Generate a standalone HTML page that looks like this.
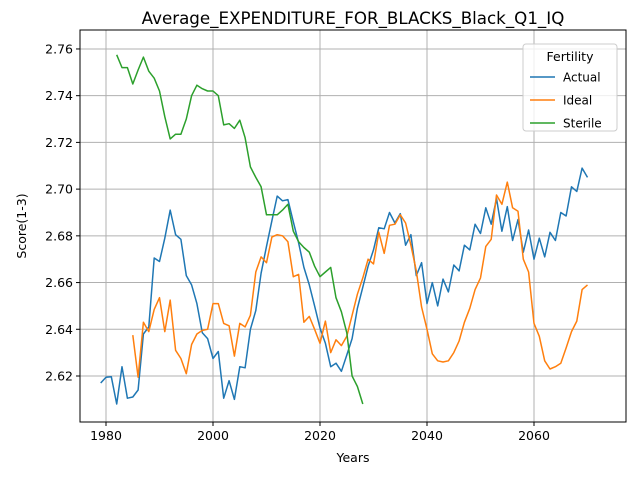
<!DOCTYPE html>
<html><head><meta charset="utf-8"><style>
body{margin:0;background:#fff}
svg text{font-family:"DejaVu Sans","Liberation Sans",sans-serif;fill:#000}
</style></head><body>
<svg id="chart" width="640" height="480">
<rect x="0" y="0" width="640" height="480" fill="#fff"/>
<g id="grid"></g><g id="series"></g><g id="axes"></g>
</svg>
<script>
const actualYears=[1979,2070];
const actual=[2.617,2.6195,2.6197,2.608,2.624,2.6105,2.611,2.614,2.638,2.641,2.6705,2.669,2.679,2.691,2.6805,2.6785,2.663,2.659,2.651,2.6385,2.636,2.6275,2.6305,2.6105,2.618,2.610,2.624,2.6235,2.640,2.648,2.664,2.6755,2.6865,2.697,2.695,2.6955,2.686,2.677,2.6665,2.659,2.650,2.6405,2.634,2.624,2.6255,2.622,2.629,2.636,2.649,2.658,2.667,2.674,2.6835,2.683,2.690,2.6855,2.6895,2.676,2.6805,2.663,2.6685,2.651,2.660,2.650,2.6615,2.656,2.6675,2.665,2.676,2.674,2.685,2.681,2.692,2.685,2.696,2.682,2.6925,2.678,2.687,2.673,2.6825,2.670,2.679,2.671,2.6815,2.678,2.690,2.6885,2.701,2.699,2.709,2.705];
const idealStart=1985;
const ideal=[2.6375,2.6195,2.643,2.639,2.6485,2.6535,2.639,2.6525,2.631,2.6275,2.621,2.6335,2.638,2.6395,2.640,2.651,2.651,2.6425,2.6415,2.6285,2.6425,2.641,2.646,2.6645,2.671,2.6685,2.6795,2.6805,2.680,2.6775,2.6625,2.6635,2.643,2.6455,2.640,2.634,2.6435,2.630,2.6355,2.633,2.637,2.646,2.655,2.662,2.670,2.668,2.6815,2.6725,2.6845,2.685,2.689,2.6855,2.676,2.665,2.6495,2.640,2.6295,2.6265,2.626,2.6265,2.630,2.635,2.643,2.649,2.657,2.662,2.6755,2.6785,2.6975,2.6935,2.703,2.692,2.6905,2.670,2.6645,2.6425,2.637,2.6265,2.623,2.624,2.6255,2.632,2.639,2.6435,2.657,2.659];
const sterileStart=1982;
const sterile=[2.7575,2.752,2.752,2.745,2.751,2.7565,2.7505,2.7475,2.742,2.731,2.7215,2.7235,2.7235,2.730,2.740,2.7445,2.743,2.742,2.742,2.740,2.7275,2.728,2.726,2.7295,2.722,2.7095,2.705,2.701,2.689,2.689,2.689,2.691,2.6935,2.682,2.6775,2.675,2.673,2.667,2.6625,2.6645,2.6665,2.6535,2.6475,2.6385,2.620,2.6155,2.608];
const xTicks=[1980,2000,2020,2040,2060];
const yTicks=[2.62,2.64,2.66,2.68,2.70,2.72,2.74,2.76];
const L=80,R=626,T=30,B=422;
function X(yr){return 106+(yr-1980)*5.35;}
function Y(v){return 376-(v-2.62)*2336;}
const NS='http://www.w3.org/2000/svg';
function mk(tag,attrs,parent,txt){const e=document.createElementNS(NS,tag);for(const k in attrs)e.setAttribute(k,attrs[k]);if(txt!==undefined)e.textContent=txt;parent.appendChild(e);return e;}
const grid=document.getElementById('grid'),ser=document.getElementById('series'),ax=document.getElementById('axes');
xTicks.forEach(t=>{const x=X(t);
 const g=mk('line',{x1:x,x2:x,y1:T,y2:B,stroke:'#b0b0b0','stroke-width':1},grid);
 
 
 mk('line',{x1:x,x2:x,y1:B,y2:B+4,stroke:'#000'},ax);
 const l=mk('text',{x:x,y:B+18,'font-size':12.5,'text-anchor':'middle'},ax,String(t));
 
 });
yTicks.forEach(t=>{const y=Y(t);
 const g=mk('line',{x1:L,x2:R,y1:y,y2:y,stroke:'#b0b0b0','stroke-width':1},grid);
 
 
 mk('line',{x1:L-4,x2:L,y1:y,y2:y,stroke:'#000'},ax);
 const l=mk('text',{x:L-7,y:y+4.5,'font-size':12.5,'text-anchor':'end'},ax,t.toFixed(2));
 
 });
function line(vals,start,color,name){
 const pts=vals.map((v,i)=>X(start+i).toFixed(1)+','+Y(v).toFixed(1)).join(' ');
 const p=mk('polyline',{points:pts,fill:'none',stroke:color,'stroke-width':1.5,'stroke-linejoin':'round'},ser);
 
 }
line(actual,actualYears[0],'#1f77b4','actual-line');
line(ideal,idealStart,'#ff7f0e','ideal-line');
line(sterile,sterileStart,'#2ca02c','sterile-line');
const fr=mk('rect',{x:L,y:T,width:R-L,height:B-T,fill:'none',stroke:'#000','stroke-width':1},ax);


const ti=mk('text',{x:353,y:24,'font-size':16.7,'text-anchor':'middle'},ax,'Average_EXPENDITURE_FOR_BLACKS_Black_Q1_IQ');


const xt=mk('text',{x:353,y:462,'font-size':12.5,'text-anchor':'middle'},ax,'Years');


const yt=mk('text',{x:26,y:226,'font-size':12.5,'text-anchor':'middle',transform:'rotate(-90 26 226)'},ax,'Score(1-3)');


const lg=mk('g',{},ax);


mk('rect',{x:523,y:44,width:94,height:87,rx:3,fill:'#fff','fill-opacity':0.8,stroke:'#ccc'},lg);
mk('text',{x:570,y:61,'font-size':12.5,'text-anchor':'middle'},lg,'Fertility');
[['Actual','#1f77b4'],['Ideal','#ff7f0e'],['Sterile','#2ca02c']].forEach((e,i)=>{
 const y=77+i*23;
 const g=mk('g',{},lg);
 
 
 mk('line',{x1:530,x2:555,y1:y,y2:y,stroke:e[1],'stroke-width':1.5},g);
 mk('text',{x:563,y:y+4.5,'font-size':12},g,e[0]);});
</script>
</body></html>
